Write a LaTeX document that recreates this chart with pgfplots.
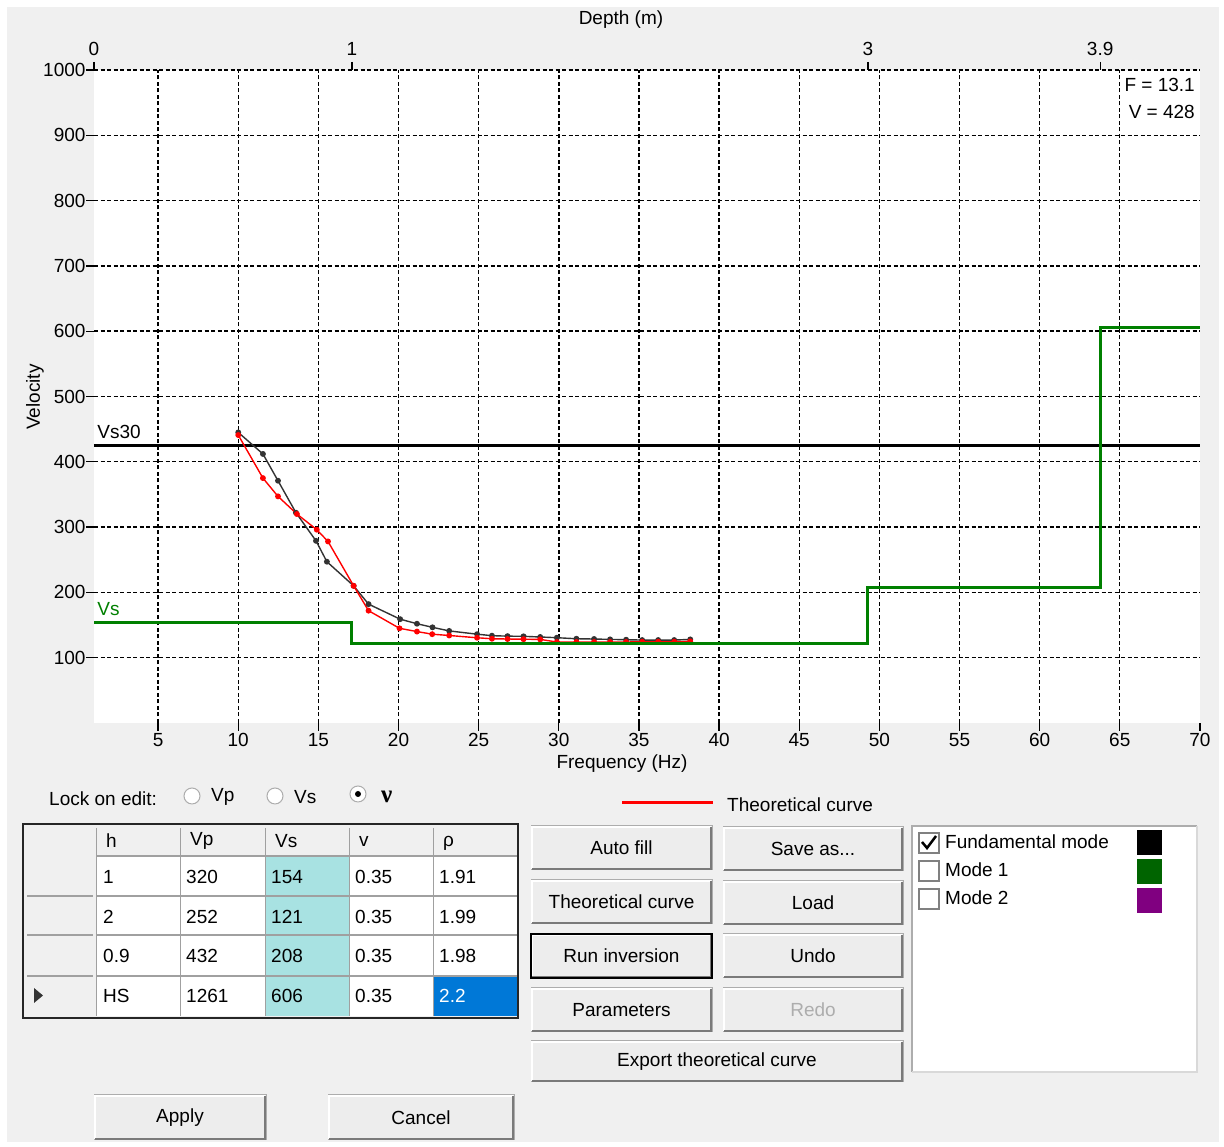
\documentclass[border=0pt]{standalone}
\usepackage{fontspec}
\setmainfont{Liberation Sans}
\newfontfamily\serifnu{Liberation Serif}
\usepackage{pgfplots}
\pgfplotsset{compat=1.18}

\definecolor{guibg}{HTML}{F0F0F0}
\definecolor{btnfill}{HTML}{EDEDED}
\definecolor{btndark}{HTML}{7A7A7A}
\definecolor{btnmid}{HTML}{ADADAD}
\definecolor{vsgreen}{HTML}{008000}
\definecolor{cyancell}{HTML}{A8E2E2}
\definecolor{selblue}{HTML}{0078D7}
\definecolor{expgray}{HTML}{333333}
\definecolor{modegreen}{HTML}{006400}
\definecolor{modepurple}{HTML}{800080}
\definecolor{gridline}{HTML}{A0A0A0}

\newcommand{\gf}{\fontsize{19}{22}\selectfont}
% button: x1 y1 x2 y2 text
\newcommand{\btn}[5]{%
  \fill[btnfill] (#1,#2) rectangle (#3,#4);
  \draw[btnmid, line width=1pt] (#1,#2) rectangle (#3,#4);
  \draw[white, line width=1.5pt] (#1+1,#4-1) -- (#1+1,#2+1) -- (#3-1,#2+1);
  \draw[btndark, line width=2pt] (#1+1,#4-1) -- (#3-1,#4-1) -- (#3-1,#2+1);
  \node at ({(#1+#3)/2},{(#2+#4)/2}) {#5};
}

\begin{document}
\begin{tikzpicture}[font=\gf, px/.style={x=1pt,y=-1pt,yshift=1147pt}]

\begin{scope}[px]
\fill[white] (0,0) rectangle (1224,1147);
\fill[guibg] (7,7) rectangle (1219,1142);
\end{scope}

% ---------------- frequency axis ----------------
\begin{axis}[
  at={(94pt,424pt)}, anchor=south west, scale only axis,
  width=1106pt, height=653pt,
  xmin=1, xmax=70, ymin=0, ymax=1000,
  axis background/.style={fill=white},
  axis line style={draw=none},
  xtick={5,10,...,65}, extra x ticks={70}, extra x tick style={grid=none},
  ytick={100,200,...,1000},
  xtick pos=bottom, ytick pos=left,
  tick align=outside, major tick length=8pt,
  tick style={black, line width=1.3pt},
  grid=major,
  major grid style={black, line width=1.4pt, dash pattern=on 4pt off 2.5pt},
  ticklabel style={font=\gf},
  /pgf/number format/assume math mode=true,
  /pgf/number format/1000 sep={},
  xticklabel style={yshift=1pt},
  yticklabel style={xshift=3pt},
  clip=false,
]
\addplot[black, line width=3pt] coordinates {(1,425) (70,425)};
\addplot[expgray, line width=1.4pt, mark=*, mark size=2.2pt] coordinates {
 (10.0,445) (11.54,412) (12.48,371) (13.6,322) (14.85,279) (15.53,247)
 (17.2,210) (18.13,182) (20.1,159) (21.15,152) (22.12,146.5) (23.16,141)
 (24.9,136) (25.83,133.7) (26.8,133) (27.8,132.7) (28.84,131.7) (29.88,130.6)
 (31.1,129) (32.2,128.6) (33.2,128) (34.2,127.5) (35.2,127) (36.2,127)
 (37.2,127) (38.2,128)};
\addplot[red, line width=1.4pt, mark=*, mark size=2.2pt] coordinates {
 (10.0,441) (11.54,375) (12.48,347) (13.66,320) (14.9,296) (15.6,278)
 (17.2,210) (18.13,172) (20.06,145) (21.15,140) (22.1,136) (23.16,134)
 (24.9,130.5) (25.83,129) (26.8,128.6) (27.8,128.3) (28.84,128) (29.88,124)
 (31.1,124) (32.2,124) (33.2,124) (34.2,124) (35.2,124.4) (36.2,124.4)
 (37.2,124.4) (38.2,125)};
\node[anchor=base west, font=\gf, inner sep=0pt] at (axis cs:1.2,436) {Vs30};
\node[anchor=base west, font=\gf, inner sep=0pt, text=vsgreen] at (axis cs:1.2,164) {Vs};
\end{axis}

% ---------------- depth axis ----------------
\begin{axis}[
  at={(94pt,424pt)}, anchor=south west, scale only axis,
  width=1106pt, height=653pt,
  xmin=0, xmax=4.2868, ymin=0, ymax=1000,
  axis line style={draw=none},
  xtick={0,1,3,3.9}, xticklabels={0,1,3,3.9},
  xtick pos=top, xticklabel pos=top, ytick=\empty,
  tick align=outside, major tick length=8pt,
  tick style={black, line width=1.3pt},
  ticklabel style={font=\gf},
  xticklabel style={yshift=3pt},
  clip=false,
]
\addplot[vsgreen, line width=3pt] coordinates {
 (0,154) (1,154) (1,121) (3,121) (3,208) (3.9,208) (3.9,606) (4.2868,606)};
\end{axis}

% ---------------- labels and GUI ----------------
\begin{scope}[px]
\node at (621,20) {Depth (m)};
\node at (622,764) {Frequency (Hz)};
\node[rotate=90] at (35,397) {Velocity};
\node[anchor=east, fill=white, inner sep=1pt] at (1196,85) {F = 13.1};
\node[anchor=east, inner sep=1pt] at (1196,112) {V = 428};

% lock on edit
\node[anchor=west, inner sep=0pt] at (49,799) {Lock on edit:};
\draw[btnmid, fill=white, line width=1pt] (192,796) circle[radius=8pt];
\draw[btnmid, fill=white, line width=1pt] (275,796) circle[radius=8pt];
\draw[btnmid, fill=white, line width=1pt] (358,794) circle[radius=8pt];
\fill[black] (358,794) circle[radius=3pt];
\node[anchor=west, inner sep=0pt] at (211,797) {Vp};
\node[anchor=west, inner sep=0pt] at (294,797) {Vs};
\node[anchor=west, inner sep=0pt, font=\fontsize{25}{28}\selectfont\serifnu\bfseries] at (381,797) {ν};

% table
\fill[guibg] (23,824) rectangle (518,1018);
\fill[white] (96,856) rectangle (517,1016);
\fill[cyancell] (265,856) rectangle (349,1016);
\fill[selblue] (433,976) rectangle (517,1016);
\foreach \xx in {96,180,265,349,433} {\draw[gridline, line width=1pt] (\xx,828) -- (\xx,1016);}
\foreach \yy in {856,896,935,976} {\draw[gridline, line width=1.2pt] (96,\yy) -- (517,\yy);}
\foreach \yy in {896,935,976} {\draw[gridline, line width=1.2pt] (27,\yy) -- (93,\yy);}
\draw[black!85, line width=2pt] (23,824) rectangle (518,1018);
\fill[black!80] (34,988) -- (43,995.5) -- (34,1003) -- cycle;
% header
\node[anchor=west, inner sep=0pt] at (106,841) {h};
\node[anchor=west, inner sep=0pt] at (190,841) {Vp};
\node[anchor=west, inner sep=0pt] at (275,841) {Vs};
\node[anchor=west, inner sep=0pt] at (359,841) {v};
\node[anchor=west, inner sep=0pt] at (443,843) {ρ};
% rows
\foreach \yy/\a/\b/\c/\d in {877/1/320/154/0.35, 917/2/252/121/0.35, 956/0.9/432/208/0.35, 996/HS/1261/606/0.35} {
  \node[anchor=west, inner sep=0pt] at (103,\yy) {\a};
  \node[anchor=west, inner sep=0pt] at (186,\yy) {\b};
  \node[anchor=west, inner sep=0pt] at (271,\yy) {\c};
  \node[anchor=west, inner sep=0pt] at (355,\yy) {\d};
}
\node[anchor=west, inner sep=0pt] at (439,877) {1.91};
\node[anchor=west, inner sep=0pt] at (439,917) {1.99};
\node[anchor=west, inner sep=0pt] at (439,956) {1.98};
\node[anchor=west, inner sep=0pt, text=white] at (439,996) {2.2};

% legend
\draw[red, line width=3pt] (622,803) -- (713,803);
\node[anchor=west, inner sep=0pt] at (727,805) {Theoretical curve};

% buttons
\btn{531}{826}{712}{870}{Auto fill}
\btn{723}{827}{903}{871}{Save as...}
\btn{531}{880}{712}{924}{Theoretical curve}
\btn{723}{881}{903}{925}{Load}
\btn{531}{934}{712}{978}{Run inversion}
\draw[black, line width=2pt] (531,934) rectangle (712,978);
\btn{723}{934}{903}{978}{Undo}
\btn{531}{988}{712}{1032}{Parameters}
\btn{723}{988}{903}{1032}{\textcolor{btnmid}{Redo}}
\btn{531}{1041}{903}{1082}{Export theoretical curve}
\btn{94}{1095}{266}{1140}{Apply}
\btn{328}{1095}{514}{1140}{Cancel}

% mode list
\fill[white] (912,826) rectangle (1197,1072);
\draw[btnmid, line width=2pt] (912,1072) -- (912,826) -- (1197,826);
\draw[white!85!black, line width=1.5pt] (912,1072) -- (1197,1072) -- (1197,826);
\draw[gray, line width=2pt, fill=white] (919,833) rectangle (939,853);
\draw[gray, line width=2pt, fill=white] (919,861) rectangle (939,881);
\draw[gray, line width=2pt, fill=white] (919,889) rectangle (939,909);
\draw[black, line width=2.5pt] (922,842) -- (927,848) -- (936,836);
\node[anchor=west, inner sep=0pt] at (945,842) {Fundamental mode};
\node[anchor=west, inner sep=0pt] at (945,870) {Mode 1};
\node[anchor=west, inner sep=0pt] at (945,898) {Mode 2};
\fill[black] (1137,830) rectangle (1162,855);
\fill[modegreen] (1137,859) rectangle (1162,884);
\fill[modepurple] (1137,888) rectangle (1162,913);
\end{scope}

\pgfresetboundingbox
\useasboundingbox (0,0) rectangle (1224pt,1147pt);
\end{tikzpicture}
\end{document}
